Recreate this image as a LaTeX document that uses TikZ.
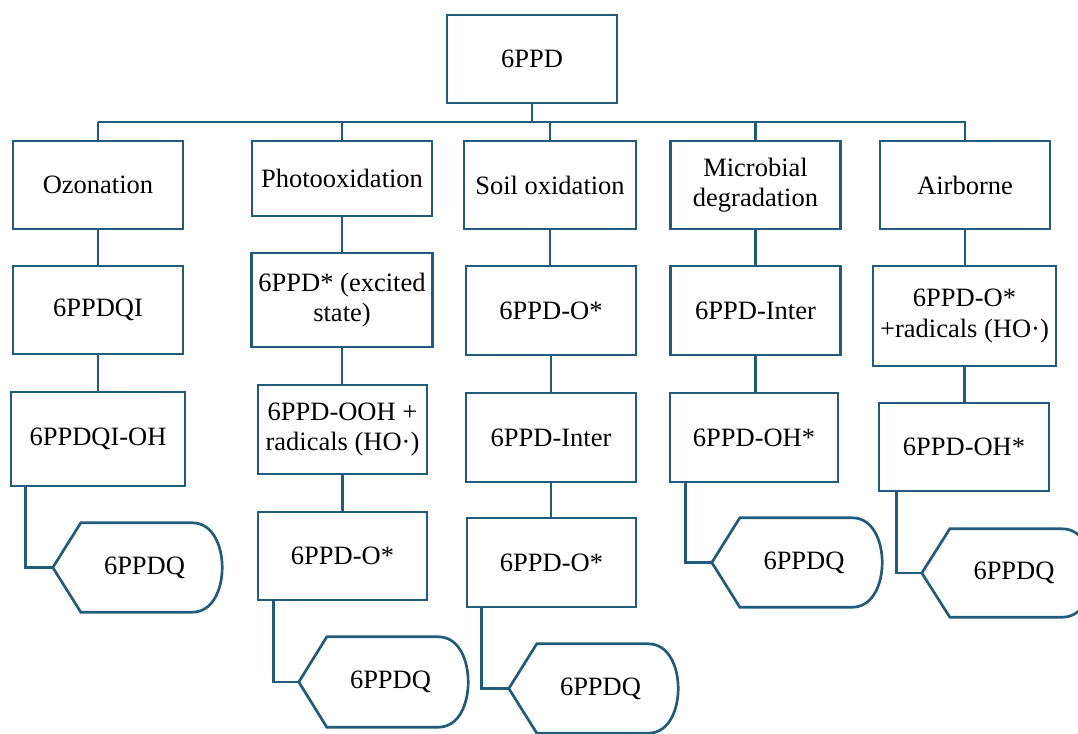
\documentclass[tikz,border=0pt]{standalone}
\usepackage{fontspec}
\setmainfont{Liberation Serif}
\usepackage{tikz}
\usetikzlibrary{calc,positioning}
\definecolor{linkblue}{RGB}{33,92,124}
\tikzset{
  link/.style={draw=linkblue, line width=2.7pt},
  stepbox/.style={draw=linkblue, line width=2.7pt, fill=white, align=center,
    inner sep=0pt, font=\fontsize{26.5}{30.5}\selectfont},
  qbox/.style={inner sep=0pt, align=center, font=\fontsize{26.5}{30.5}\selectfont}
}
% outline of the 6PPDQ end shapes
\newcommand{\dqshape}[1]{%
  \draw[link, line join=miter] (#1.west) -- ([xshift=28pt]#1.north west)
    -- ([xshift=-30pt]#1.north east) to[out=0,in=90] (#1.east)
    to[out=-90,in=0] ([xshift=-30pt]#1.south east)
    -- ([xshift=28pt]#1.south west) -- cycle;}

\begin{document}
\begin{tikzpicture}[x=1pt, y=-1pt]
\useasboundingbox (0,0) rectangle (1078,733);

\node[stepbox, minimum width=170pt, minimum height=88pt] (top) at (532,59) {6PPD};

% first row
\node[stepbox, minimum width=170pt, minimum height=88pt] (oz) at (98,185) {Ozonation};
\node[stepbox, minimum width=180pt, minimum height=75pt] (ph) at (342,178.5) {Photooxidation};
\node[stepbox, minimum width=172pt, minimum height=88pt] (so) at (550,185) {Soil oxidation};
\node[stepbox, minimum width=170pt, minimum height=88pt] (mi) at (755.5,185) {Microbial\\degradation};
\node[stepbox, minimum width=170pt, minimum height=88pt] (ai) at (965,185) {Airborne};

% second row
\node[stepbox, minimum width=170pt, minimum height=88pt] (oz2) at (98,310) {6PPDQI};
\node[stepbox, minimum width=181pt, minimum height=94pt] (ph2) at (342,300) {6PPD* (excited\\state)};
\node[stepbox, minimum width=170pt, minimum height=89pt] (so2) at (551,310.5) {6PPD-O*};
\node[stepbox, minimum width=170pt, minimum height=89pt] (mi2) at (755.5,310.5) {6PPD-Inter};
\node[stepbox, minimum width=183pt, minimum height=100pt] (ai2) at (964.5,316) {6PPD-O*\\+radicals (HO·)};

% third row
\node[stepbox, minimum width=174pt, minimum height=94pt] (oz3) at (98,439) {6PPDQI-OH};
\node[stepbox, minimum width=169pt, minimum height=89pt] (ph3) at (342.5,429.5) {6PPD-OOH +\\radicals (HO·)};
\node[stepbox, minimum width=170pt, minimum height=89pt] (so3) at (551,437.5) {6PPD-Inter};
\node[stepbox, minimum width=168pt, minimum height=89pt] (mi3) at (754,437.5) {6PPD-OH*};
\node[stepbox, minimum width=170pt, minimum height=88pt] (ai3) at (964,447) {6PPD-OH*};

% fourth row
\node[stepbox, minimum width=169pt, minimum height=88pt] (ph4) at (342.5,556) {6PPD-O*};
\node[stepbox, minimum width=169pt, minimum height=89pt] (so4) at (551.5,562.5) {6PPD-O*};

% end products
\node[qbox, minimum width=169pt, minimum height=89pt] (dqoz) at (137.5,567.5) {\hspace*{14pt}6PPDQ};
\node[qbox, minimum width=169pt, minimum height=90pt] (dqph) at (383.5,682) {\hspace*{14pt}6PPDQ};
\node[qbox, minimum width=169pt, minimum height=89pt] (dqso) at (593.5,688.5) {\hspace*{14pt}6PPDQ};
\node[qbox, minimum width=170pt, minimum height=89pt] (dqmi) at (797,562.5) {\hspace*{14pt}6PPDQ};
\node[qbox, minimum width=170pt, minimum height=88pt] (dqai) at (1007,573) {\hspace*{14pt}6PPDQ};
\dqshape{dqoz}
\dqshape{dqph}
\dqshape{dqso}
\dqshape{dqmi}
\dqshape{dqai}

% bus from 6PPD
\coordinate (busL) at (98,122);
\coordinate (busR) at (966,122);
\draw[link] (busL) -- (busR);
\draw[link] (top.south) -- (top.south |- busL);
\foreach \c in {oz,ph,so,mi,ai}
  \draw[link] (\c.north) -- (\c.north |- busL);

% columns
\draw[link] (oz.south) -- (oz.south |- oz2.north);
\draw[link] (oz2.south) -- (oz2.south |- oz3.north);
\draw[link] (ph.south) -- (ph.south |- ph2.north);
\draw[link] (ph2.south) -- (ph2.south |- ph3.north);
\draw[link] (ph3.south) -- (ph3.south |- ph4.north);
\draw[link] (so.south) -- (so.south |- so2.north);
\draw[link] (so2.south) -- (so2.south |- so3.north);
\draw[link] (so3.south) -- (so3.south |- so4.north);
\draw[link] (mi.south) -- (mi.south |- mi2.north);
\draw[link] (mi2.south) -- (mi2.south |- mi3.north);
\draw[link] (ai.south) -- (ai.south |- ai2.north);
\draw[link] (ai2.south) -- (ai2.south |- ai3.north);

% to 6PPDQ
\draw[link] ([xshift=16pt]oz3.south west) |- (dqoz.west);
\draw[link] ([xshift=17pt]ph4.south west) |- (dqph.west);
\draw[link] ([xshift=16pt]so4.south west) |- (dqso.west);
\draw[link] ([xshift=17pt]mi3.south west) |- (dqmi.west);
\draw[link] ([xshift=19pt]ai3.south west) |- (dqai.west);
\end{tikzpicture}
\end{document}
